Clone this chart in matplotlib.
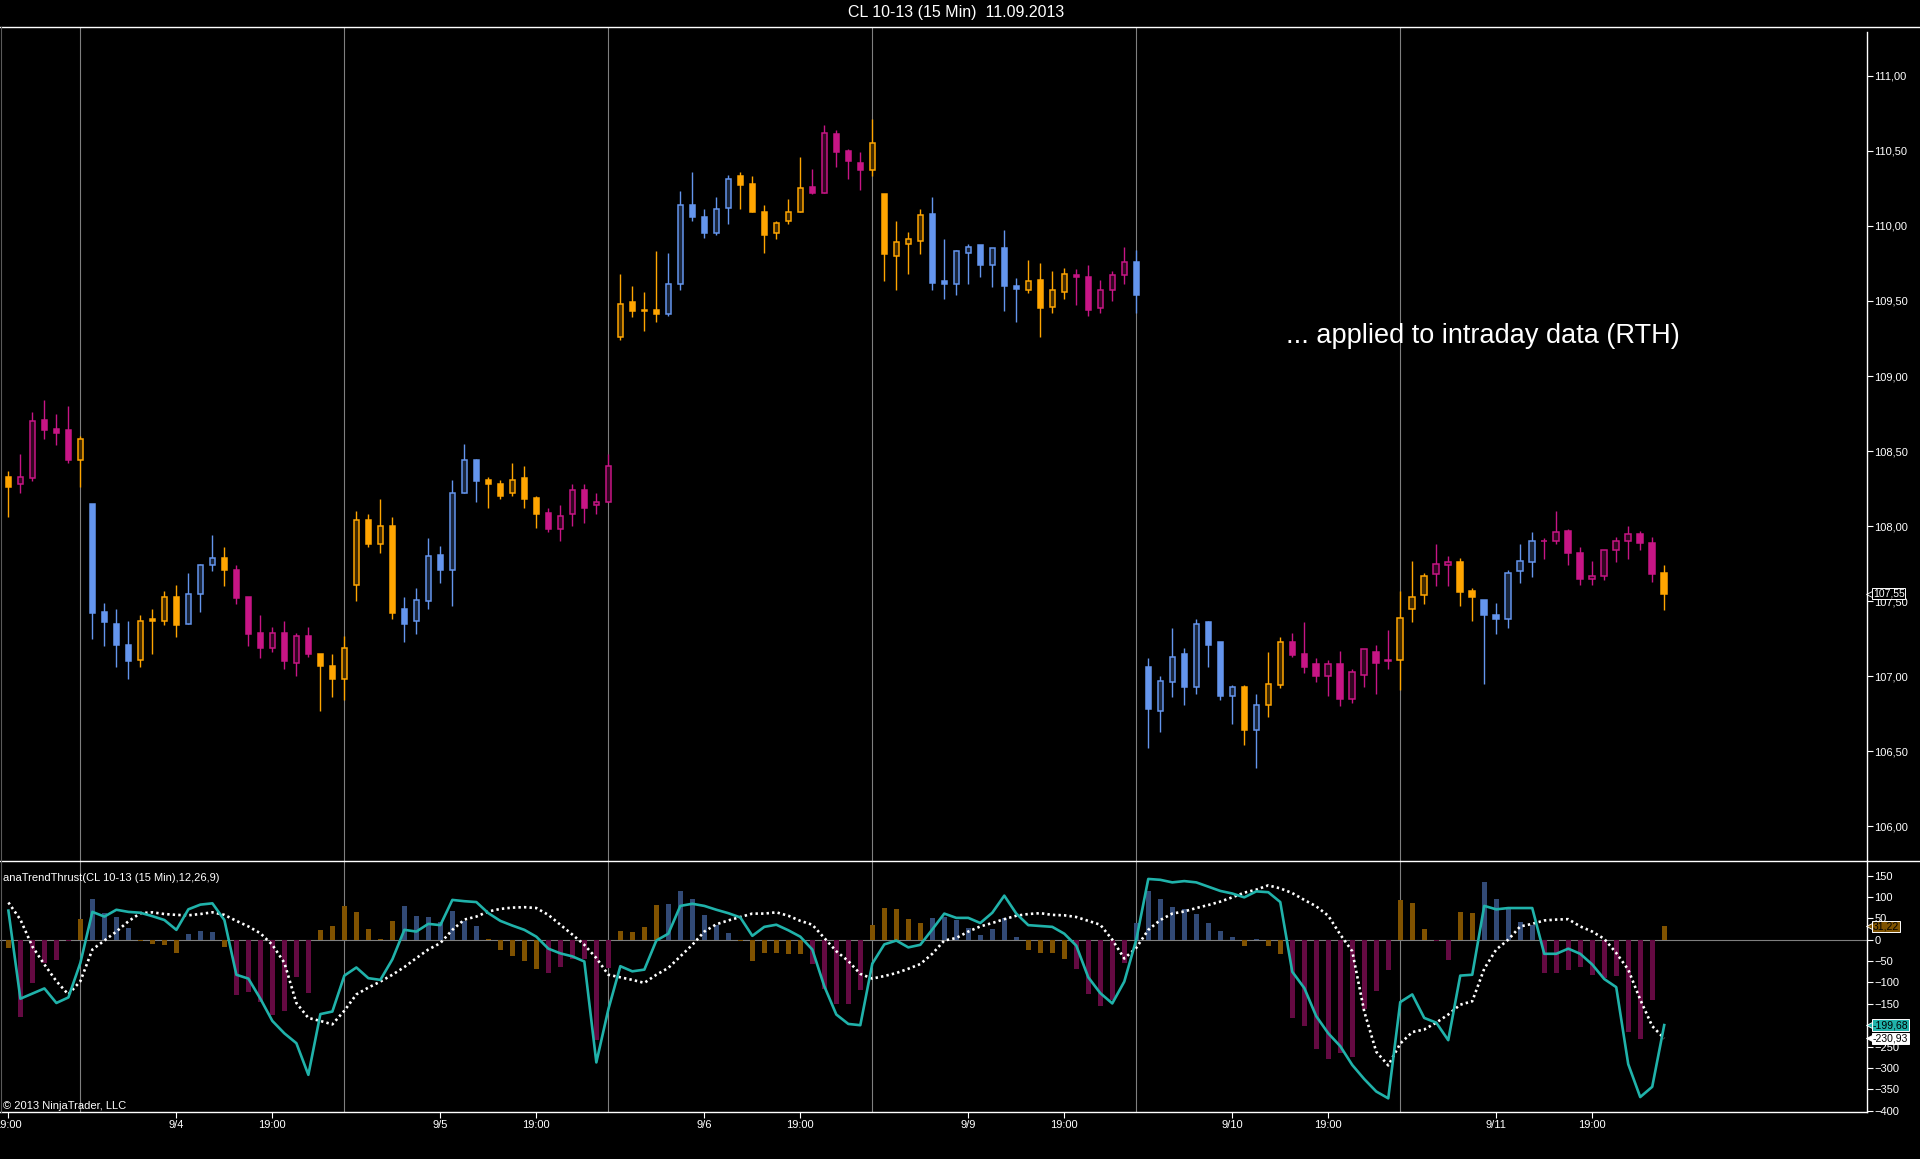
import matplotlib
matplotlib.use("Agg")
import matplotlib.pyplot as plt
import matplotlib.transforms as mtransforms
from matplotlib.lines import Line2D
from matplotlib.ticker import FuncFormatter
import numpy as np

plt.rcParams['font.family'] = ['Liberation Sans', 'DejaVu Sans']

# 15 min bars, CL 10-13, RTH sessions 9/3 .. 9/11
opens = [108.33, 108.28, 108.32, 108.71, 108.65, 108.64, 108.44, 108.15, 107.43, 107.35,
         107.21, 107.11, 107.38, 107.37, 107.53, 107.35, 107.55, 107.74, 107.79, 107.71,
         107.53, 107.29, 107.19, 107.29, 107.09, 107.27, 107.15, 107.07, 106.98, 107.61,
         108.04, 107.88, 108.00, 107.45, 107.37, 107.50, 107.81, 107.71, 108.22, 108.44,
         108.31, 108.28, 108.22, 108.32, 108.19, 108.09, 107.98, 108.08, 108.24, 108.14,
         108.16, 109.26, 109.49, 109.44, 109.44, 109.41, 109.61, 110.14, 110.06, 109.95,
         110.12, 110.33, 110.28, 110.09, 109.95, 110.03, 110.09, 110.26, 110.22, 110.61,
         110.50, 110.42, 110.37, 110.21, 109.80, 109.88, 109.90, 110.08, 109.63, 109.61,
         109.82, 109.87, 109.74, 109.85, 109.60, 109.57, 109.64, 109.46, 109.56, 109.67,
         109.66, 109.45, 109.57, 109.67, 109.76, 107.06, 106.77, 106.96, 107.15, 106.93,
         107.36, 107.23, 106.87, 106.93, 106.64, 106.81, 106.94, 107.23, 107.15, 107.08,
         107.00, 107.08, 106.85, 107.01, 107.16, 107.11, 107.11, 107.45, 107.54, 107.68,
         107.74, 107.76, 107.57, 107.51, 107.41, 107.38, 107.70, 107.76, 107.90, 107.90,
         107.97, 107.82, 107.65, 107.67, 107.84, 107.90, 107.95, 107.89, 107.69]
highs = [108.37, 108.48, 108.76, 108.84, 108.75, 108.80, 108.60, 108.15, 107.49, 107.45,
         107.37, 107.41, 107.45, 107.57, 107.61, 107.69, 107.75, 107.94, 107.86, 107.74,
         107.53, 107.41, 107.33, 107.37, 107.29, 107.33, 107.15, 107.15, 107.27, 108.10,
         108.08, 108.18, 108.06, 107.53, 107.59, 107.92, 107.87, 108.31, 108.55, 108.45,
         108.33, 108.31, 108.42, 108.40, 108.20, 108.12, 108.14, 108.28, 108.28, 108.22,
         108.48, 109.68, 109.60, 109.56, 109.83, 109.82, 110.23, 110.36, 110.11, 110.19,
         110.34, 110.36, 110.33, 110.14, 110.03, 110.18, 110.46, 110.38, 110.67, 110.64,
         110.51, 110.49, 110.71, 110.21, 110.03, 109.96, 110.11, 110.19, 109.91, 109.84,
         109.88, 109.87, 109.85, 109.97, 109.65, 109.77, 109.75, 109.70, 109.72, 109.71,
         109.74, 109.64, 109.70, 109.86, 109.84, 107.12, 107.00, 107.32, 107.19, 107.38,
         107.37, 107.23, 106.94, 106.94, 106.88, 107.16, 107.26, 107.29, 107.36, 107.12,
         107.11, 107.17, 107.05, 107.18, 107.21, 107.31, 107.57, 107.77, 107.69, 107.88,
         107.80, 107.79, 107.59, 107.51, 107.49, 107.71, 107.88, 107.96, 107.92, 108.10,
         107.98, 107.86, 107.77, 107.84, 107.93, 108.00, 107.97, 107.93, 107.74]
lows = [108.06, 108.22, 108.30, 108.58, 108.54, 108.42, 108.26, 107.25, 107.20, 107.06,
        106.98, 107.06, 107.15, 107.34, 107.26, 107.35, 107.43, 107.70, 107.60, 107.48,
        107.20, 107.12, 107.16, 107.05, 107.00, 107.13, 106.77, 106.86, 106.84, 107.50,
        107.86, 107.82, 107.38, 107.23, 107.28, 107.45, 107.62, 107.47, 108.22, 108.16,
        108.12, 108.18, 108.20, 108.12, 107.99, 107.96, 107.90, 108.00, 108.02, 108.08,
        108.16, 109.24, 109.39, 109.30, 109.36, 109.40, 109.57, 110.03, 109.92, 109.94,
        110.01, 110.11, 110.09, 109.82, 109.91, 110.01, 110.09, 110.21, 110.22, 110.39,
        110.31, 110.24, 110.33, 109.63, 109.57, 109.68, 109.81, 109.57, 109.51, 109.54,
        109.61, 109.66, 109.59, 109.43, 109.36, 109.55, 109.26, 109.42, 109.51, 109.47,
        109.40, 109.42, 109.50, 109.61, 109.42, 106.52, 106.63, 106.86, 106.81, 106.88,
        107.06, 106.84, 106.68, 106.54, 106.39, 106.73, 106.92, 107.13, 107.02, 106.96,
        106.87, 106.80, 106.82, 106.93, 106.88, 107.05, 106.91, 107.36, 107.48, 107.60,
        107.60, 107.47, 107.37, 106.95, 107.28, 107.32, 107.62, 107.66, 107.78, 107.88,
        107.74, 107.61, 107.61, 107.64, 107.76, 107.78, 107.84, 107.63, 107.44]
closes = [108.26, 108.33, 108.70, 108.64, 108.62, 108.44, 108.58, 107.42, 107.36, 107.21,
          107.10, 107.37, 107.37, 107.53, 107.34, 107.55, 107.74, 107.79, 107.71, 107.52,
          107.28, 107.19, 107.29, 107.10, 107.27, 107.15, 107.07, 106.98, 107.19, 108.04,
          107.88, 108.00, 107.42, 107.35, 107.51, 107.80, 107.71, 108.22, 108.44, 108.30,
          108.28, 108.20, 108.31, 108.18, 108.08, 107.98, 108.07, 108.24, 108.12, 108.16,
          108.40, 109.48, 109.43, 109.43, 109.41, 109.61, 110.14, 110.06, 109.95, 110.11,
          110.31, 110.27, 110.09, 109.94, 110.02, 110.09, 110.25, 110.22, 110.62, 110.49,
          110.43, 110.37, 110.55, 109.81, 109.89, 109.91, 110.07, 109.62, 109.61, 109.83,
          109.86, 109.74, 109.85, 109.60, 109.58, 109.63, 109.45, 109.57, 109.68, 109.66,
          109.44, 109.57, 109.67, 109.76, 109.54, 106.78, 106.97, 107.13, 106.93, 107.35,
          107.21, 106.87, 106.93, 106.64, 106.81, 106.95, 107.23, 107.14, 107.06, 107.00,
          107.08, 106.85, 107.03, 107.18, 107.09, 107.10, 107.39, 107.53, 107.67, 107.75,
          107.76, 107.56, 107.53, 107.41, 107.38, 107.69, 107.77, 107.90, 107.90, 107.96,
          107.82, 107.65, 107.67, 107.84, 107.90, 107.95, 107.89, 107.68, 107.55]
# trend state per bar: B = bull (blue), O = neutral (orange), M = bear (magenta)
states = ("OMMMMMOBBBBOOOOBBBOMMMMMMMOOOOOOOBBBBBBBOOOOOMMMMMM"
          "OOOOBBBBBBOOOOOOMMMMMOOOOOBBBBBBBBOOOOMMMMMB"
          "BBBBBBBBOBOOMMMMMMMMMOOOMMOOBBBBBMMMMMMMMMMO")

hist = [-20, -181, -102, -54, -48, -3, 49, 96, 63, 54, 28, -2, -9, -13, -32, 14, 21, 19, -18, -130,
        -123, -146, -176, -167, -88, -125, 23, 33, 79, 64, 26, 2, 44, 79, 56, 54, 42, 68, 43, 33,
        1, -25, -39, -51, -69, -77, -64, -46, -45, -235, -67, 21, 19, 30, 82, 84, 114, 96, 58, 35,
        16, -4, -51, -30, -30, -34, -34, -57, -116, -151, -151, -118, 35, 75, 72, 49, 40, 51, 54, 47,
        28, 12, 26, 51, 7, -25, -30, -30, -44, -69, -127, -155, -141, -55, 40, 114, 96, 77, 72, 61,
        40, 21, 7, -14, 2, -14, -33, -184, -202, -256, -280, -266, -275, -163, -121, -72, 93, 86, 26, -2,
        -48, 65, 63, 135, 96, 72, 42, 35, -77, -77, -70, -63, -82, -89, -86, -217, -233, -142, 31.22]
thrust = [68, -138, -126, -114, -148, -135, -54, 65, 54, 70, 65, 63, 55, 46, 23, 71, 82, 85, 46, -82,
          -91, -138, -190, -219, -242, -316, -174, -168, -84, -65, -90, -94, -46, 23, 19, 37, 34, 93, 90, 88,
          62, 44, 33, 23, 7, -21, -32, -39, -51, -287, -163, -62, -74, -70, -2, 14, 79, 84, 79, 70,
          62, 52, 9, 30, 35, 22, 7, -23, -109, -175, -197, -200, -56, -11, -2, -18, -12, 24, 61, 51,
          51, 39, 63, 103, 61, 34, 32, 30, 14, -14, -88, -125, -149, -98, 0, 142, 140, 134, 137, 134,
          124, 114, 108, 99, 113, 111, 88, -75, -113, -179, -219, -249, -293, -326, -355, -371, -146, -128, -183, -194,
          -235, -84, -82, 79, 71, 74, 74, 74, -33, -33, -21, -33, -58, -92, -111, -291, -368, -344, -199.68]
signal = [87, 47, -16, -58, -97, -128, -97, -23, -2, 19, 43, 62, 64, 60, 58, 57, 60, 64, 58, 44,
          31, 15, -12, -54, -148, -183, -190, -198, -166, -128, -112, -98, -82, -64, -43, -23, -8, 23, 47, 54,
          66, 72, 75, 76, 74, 58, 35, 12, -12, -43, -82, -88, -94, -101, -82, -66, -39, -12, 19, 36,
          45, 53, 61, 61, 64, 56, 44, 35, 4, -27, -50, -80, -91, -85, -78, -68, -57, -33, -2, 4,
          19, 31, 39, 48, 56, 60, 62, 58, 57, 53, 44, 35, 0, -44, -19, 23, 46, 61, 66, 74,
          81, 89, 99, 110, 117, 127, 120, 109, 93, 78, 56, 12, -27, -168, -262, -294, -243, -216, -210, -194,
          -175, -152, -144, -68, -23, 0, 31, 37, 45, 47, 48, 31, 19, 2, -31, -70, -140, -202, -230.93]

session_ends = [6, 28, 50, 72, 94, 116]
date_ticks = [0, 14, 22, 36, 44, 58, 66, 80, 88, 102, 110, 124, 132]
date_labels = ['19:00', '9/4', '19:00', '9/5', '19:00', '9/6', '19:00', '9/9', '19:00',
               '9/10', '19:00', '9/11', '19:00']

candle_col = {'B': '#6495ED', 'O': '#FFA500', 'M': '#C71585'}
hollow_col = {'B': '#19253B', 'O': '#402900', 'M': '#320521'}
hist_col = {'B': '#324A76', 'O': '#805200', 'M': '#640A42'}

W, H = 1920, 1159
fig = plt.figure(figsize=(W / 100, H / 100), dpi=100, facecolor='black')
ax1 = fig.add_axes([0, 1 - 861 / H, 1867 / W, (861 - 27) / H], facecolor='black')
ax2 = fig.add_axes([0, 1 - 1111.6 / H, 1867 / W, (1111.6 - 861) / H], facecolor='black')

x = np.arange(len(closes))
o = np.array(opens)
c = np.array(closes)

# session breaks
for s in session_ends:
    ax1.axvline(s, color='#7f7f7f', lw=0.8, zorder=1)
    ax2.axvline(s, color='#7f7f7f', lw=0.8, zorder=1)

# candles: hollow = up bar, filled = down bar
cols = [candle_col[s] for s in states]
ax1.vlines(x, lows, highs, colors=cols, lw=1.0, zorder=2)
body_low = np.minimum(o, c)
body_h = np.maximum(np.abs(c - o), 0.004)
face = [hollow_col[s] if c[i] > o[i] else candle_col[s] for i, s in enumerate(states)]
ax1.bar(x, body_h, bottom=body_low, width=0.46, color=face, edgecolor=cols,
        linewidth=1.1, zorder=3)

ax1.set_xlim(-0.7, 154.9)
ax1.set_ylim(105.769, 111.325)
ax1.set_yticks(np.arange(106, 111.01, 0.5))
ax1.yaxis.set_major_formatter(FuncFormatter(lambda v, p: f"{v:.2f}".replace('.', ',')))
ax1.text(106.5, 109.22, '... applied to intraday data (RTH)', color='white',
         fontsize=19.5, va='baseline', ha='left')

# indicator panel
ax2.axhline(0, color='#7f7f7f', lw=0.8, zorder=1)
ax2.bar(x, hist, width=0.4, color=[hist_col[s] for s in states], zorder=2)
ax2.plot(x, signal, color='white', lw=1.9, linestyle=(0, (0.9, 1.2)), zorder=3)
ax2.plot(x, thrust, color='#20B2AA', lw=1.9, zorder=4)
ax2.set_xlim(-0.7, 154.9)
ax2.set_ylim(-402, 184)
ax2.set_yticks(np.arange(-400, 151, 50))
ax2.set_xticks(date_ticks)
ax2.set_xticklabels(date_labels)

for ax in (ax1, ax2):
    for sp in ax.spines.values():
        sp.set_visible(False)
    ax.yaxis.tick_right()
    ax.tick_params(axis='y', colors='white', length=4.3, width=0.8, labelsize=8, pad=1)
ax1.set_xticks([])
ax2.spines['bottom'].set_visible(True)
ax2.spines['bottom'].set_color('white')
ax2.spines['bottom'].set_linewidth(1.0)
ax2.tick_params(axis='x', colors='white', length=4.3, width=0.8, labelsize=8, pad=2)

# frame lines
fig.add_artist(Line2D([0, 1], [1 - 27 / H] * 2, color='white', lw=1.0))
fig.add_artist(Line2D([0, 1], [1 - 861 / H] * 2, color='white', lw=1.0))
fig.add_artist(Line2D([1867 / W] * 2, [1 - 32 / H, 1 - 1111.6 / H], color='white', lw=1.0))
fig.add_artist(Line2D([0.5 / W] * 2, [1 - 27 / H, 1 - 1111.6 / H], color='#5a5a5a', lw=0.8))

# texts
fig.text(956.5 / W, 1 - 13 / H, 'CL 10-13 (15 Min)  11.09.2013', color='white',
         fontsize=11.5, ha='center', va='center')
fig.text(3 / W, 1 - 878 / H, 'anaTrendThrust(CL 10-13 (15 Min),12,26,9)', color='white',
         fontsize=8, ha='left', va='center')
fig.text(3 / W, 1 - 1106 / H, '\u00a9 2013 NinjaTrader, LLC', color='white',
         fontsize=8, ha='left', va='center')


# value tags on the right scale
def tag(ax, value, fc, tc):
    tr = mtransforms.blended_transform_factory(fig.transFigure, ax.transData)
    ax.plot([1870 / W], [value], marker='<', ms=5.5, color=fc, mec='white', mew=0.6,
            transform=tr, clip_on=False, zorder=10)
    ax.text(1873 / W, value, f"{value:.2f}".replace('.', ','), transform=tr, color=tc,
            fontsize=7.5, ha='left', va='center', zorder=11,
            bbox=dict(boxstyle='square,pad=0.06', fc=fc, ec='white', lw=0.7))


tag(ax1, closes[-1], 'black', 'white')
tag(ax2, hist[-1], '#7F5300', 'black')
tag(ax2, thrust[-1], '#20B2AA', 'black')
tag(ax2, signal[-1], 'white', 'black')

fig.savefig('out.png', dpi=100, facecolor='black')
